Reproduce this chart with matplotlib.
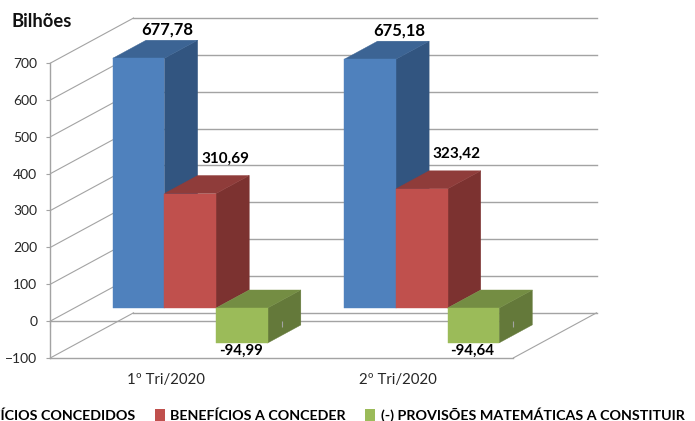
import matplotlib
matplotlib.use("Agg")
import matplotlib.pyplot as plt
from matplotlib.patches import Patch, Polygon

plt.rcParams["font.family"] = ["Lato", "DejaVu Sans"]

# dados
categorias = ["1º Tri/2020", "2º Tri/2020"]
series = ["BENEFÍCIOS CONCEDIDOS", "BENEFÍCIOS A CONCEDER", "(-) PROVISÕES MATEMÁTICAS A CONSTITUIR"]
concedidos = [677.78, 675.18]
a_conceder = [310.69, 323.42]
provisoes = [-94.99, -94.64]
rotulos_conc = ["677,78", "675,18"]
rotulos_aconc = ["310,69", "323,42"]
rotulos_prov = ["-94,99", "-94,64"]
yticks = [-100, 0, 100, 200, 300, 400, 500, 600, 700]

# escala em pixels da figura
W, H = 695, 421
X0, CAT = 50.5, 231.5    # eixo frontal e largura de cada categoria
Y0, PX100 = 321, 36.85   # linha do zero e pixels por 100
DEPTH_X, DEPTH_Y = 83 / CAT, 45 / PX100 * 100   # profundidade total da caixa
BAR_W = 51.6 / CAT

fig = plt.figure(figsize=(W / 100, H / 100), dpi=100)
ax = fig.add_axes([0, 0, 1, 1])
ax.set_xlim(-X0 / CAT, (W - X0) / CAT)
ax.set_ylim(-(H - Y0) / PX100 * 100, Y0 / PX100 * 100)

grid = "#a3a3a3"
ymin, ymax = yticks[0], yticks[-1]

# parede do fundo e parede lateral
for v in yticks:
    ax.plot([DEPTH_X, 2 + DEPTH_X], [v + DEPTH_Y, v + DEPTH_Y], color=grid, lw=1, zorder=1)
    ax.plot([0, DEPTH_X], [v, v + DEPTH_Y], color=grid, lw=0.8, zorder=1)
# piso
ax.plot([0, 2], [ymin, ymin], color=grid, lw=1, zorder=1)
ax.plot([2, 2 + DEPTH_X], [ymin, ymin + DEPTH_Y], color=grid, lw=0.8, zorder=1)

ax.spines[["top", "right"]].set_visible(False)
ax.spines["left"].set_position(("data", 0))
ax.spines["left"].set_bounds(ymin, ymax)
ax.spines["bottom"].set_position(("data", 0))
ax.spines["bottom"].set_bounds(0, 2)
for s in ["left", "bottom"]:
    ax.spines[s].set_color(grid)
    ax.spines[s].set_linewidth(1)
    ax.spines[s].set_zorder(1)
ax.set_axisbelow(False)
ax.set_yticks(yticks)
ax.set_xticks([0, 1, 2])
ax.set_xticklabels([])
ax.tick_params(axis="y", color=grid, length=3, pad=6.5, labelsize=10, labelcolor="#262626")
ax.tick_params(axis="x", color=grid, length=4)

FRONT = 13 / 45   # onde a barra comeca na profundidade
BAR_D = 18 / 45   # profundidade da barra


def barra(x, v, cores):
    x0 = x + FRONT * DEPTH_X
    b = FRONT * DEPTH_Y
    dx, dy = BAR_D * DEPTH_X, BAR_D * DEPTH_Y
    x1 = x0 + BAR_W
    frente = [(x0, b), (x1, b), (x1, b + v), (x0, b + v)]
    topo_y = b + max(v, 0)
    topo = [(x0, topo_y), (x1, topo_y), (x1 + dx, topo_y + dy), (x0 + dx, topo_y + dy)]
    lado = [(x1, b), (x1 + dx, b + dy), (x1 + dx, b + v + dy), (x1, b + v)]
    for pts, c in zip([lado, topo, frente], cores):
        ax.add_patch(Polygon(pts, closed=True, facecolor=c, edgecolor=c, lw=0.3, zorder=2))


azul = ["#325580", "#3c6494", "#4f81bd"]
verm = ["#7c3230", "#8f3c3a", "#c0504d"]
verde = ["#64793a", "#748d43", "#9bbb59"]

# desvio dos rotulos em pixels, em relacao ao topo frontal de cada barra
for i in range(len(categorias)):
    x = i + 0.5 - 1.5 * BAR_W
    barra(x, concedidos[i], azul)
    barra(x + BAR_W, a_conceder[i], verm)
    barra(x + 2 * BAR_W, provisoes[i], verde)

    b = FRONT * DEPTH_Y
    x0 = x + FRONT * DEPTH_X
    kw = dict(textcoords="offset pixels", ha="center", va="center", fontweight="bold",
              color="black", zorder=5)
    ax.annotate(rotulos_conc[i], (x0 + BAR_W / 2, b + concedidos[i]), xytext=(29, 29),
                fontsize=12, **kw)
    ax.annotate(rotulos_aconc[i], (x0 + 1.5 * BAR_W, b + a_conceder[i]), xytext=(35, 35),
                fontsize=11, **kw)
    ax.annotate(rotulos_prov[i], (x0 + 2.5 * BAR_W, b + provisoes[i]), xytext=(-1, -8),
                fontsize=10.8, **kw)

    ax.text(i + 0.5, (Y0 - 380) / PX100 * 100, categorias[i], ha="center", va="center",
            fontsize=10.8, color="#262626")

ax.text(12 / CAT - X0 / CAT, (Y0 - 22) / PX100 * 100, "Bilhões", ha="left", va="center",
        fontsize=13.2, fontweight="bold", color="#111111")

handles = [Patch(facecolor=azul[2]), Patch(facecolor=verm[2]), Patch(facecolor=verde[2])]
leg = ax.legend(handles, series, ncol=3, loc="lower left", bbox_to_anchor=(-0.102, -0.029),
                frameon=False, prop={"size": 10.3, "weight": "bold"}, handlelength=0.7,
                handleheight=0.9, handletextpad=0.4, columnspacing=1.33, borderpad=0.3)

fig.savefig("out.png", dpi=100)
